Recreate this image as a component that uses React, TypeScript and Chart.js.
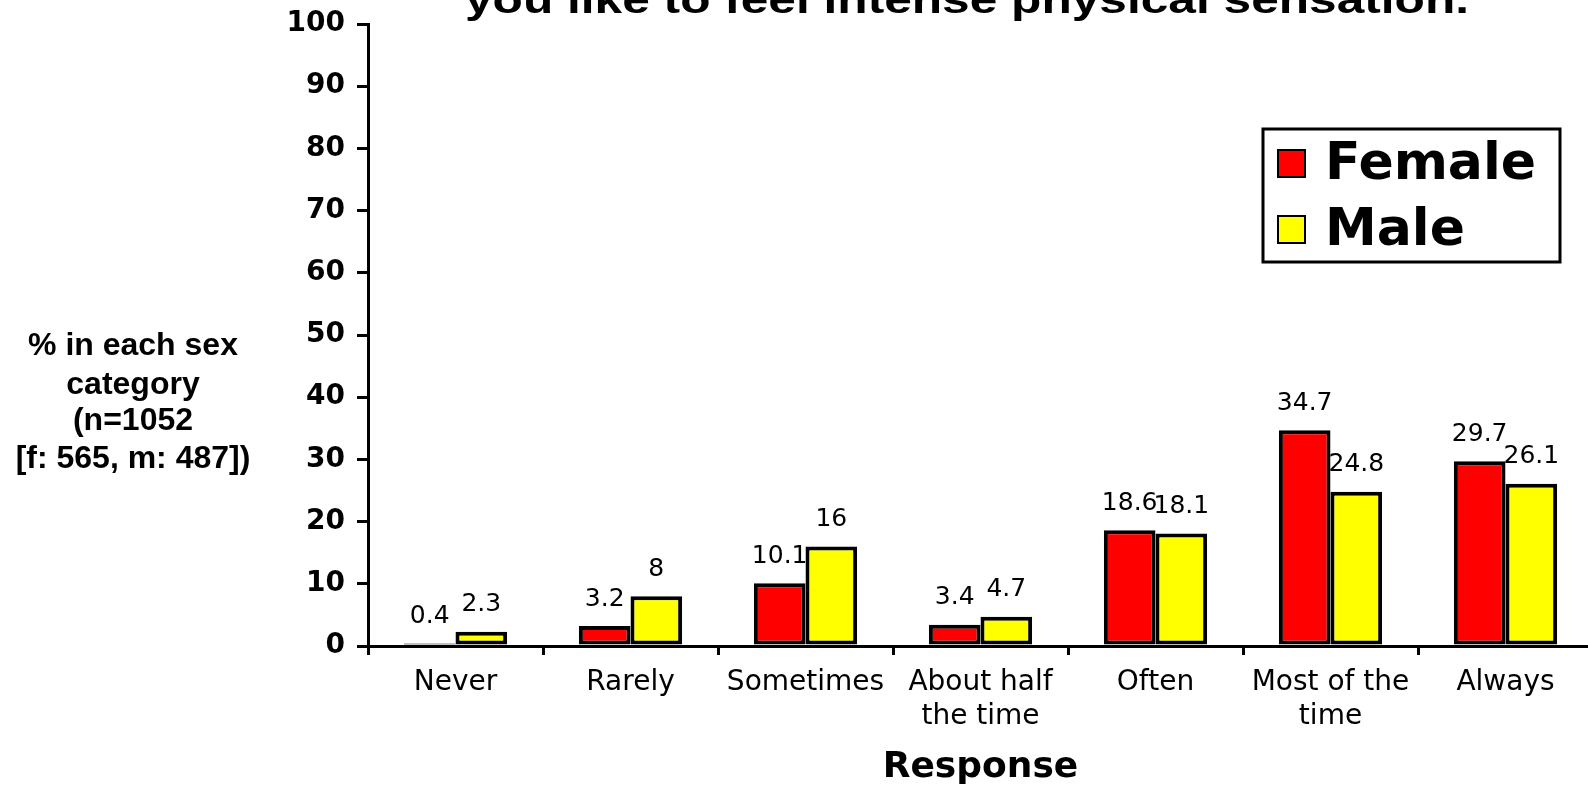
import React, { useEffect, useRef } from "react";
import { Chart, registerables } from "chart.js";

Chart.register(...registerables);

const categories: string[][] = [
  ["Never"],
  ["Rarely"],
  ["Sometimes"],
  ["About half", "the time"],
  ["Often"],
  ["Most of the", "time"],
  ["Always"],
];
const femaleValues = [0.4, 3.2, 10.1, 3.4, 18.6, 34.7, 29.7];
const maleValues = [2.3, 8, 16, 4.7, 18.1, 24.8, 26.1];
const seriesLabels = ["Female", "Male"];
const seriesColors = ["#FF0000", "#FFFF00"];
const titleText = "you like to feel intense physical sensation.";
const yTitleLines = ["% in each sex", "category", "(n=1052", "[f: 565, m: 487])"];
const xTitleText = "Response";
const yMin = 0;
const yMax = 100;
const yStep = 10;

const FONT = '"Liberation Sans", Arial, Helvetica, sans-serif';
const DFONT = '"DejaVu Sans", Verdana, sans-serif';

const decorPlugin = {
  id: "decor",
  beforeDatasetsDraw(chart: any) {
    const ctx = chart.ctx;
    ctx.save();
    ctx.font = `25px ${DFONT}`;
    ctx.fillStyle = "#000";
    ctx.textAlign = "center";
    ctx.textBaseline = "middle";
    chart.data.datasets.forEach((ds: any, i: number) => {
      const meta = chart.getDatasetMeta(i);
      meta.data.forEach((bar: any, j: number) => {
        ctx.fillText(String(ds.data[j]), bar.x, bar.y - 27);
      });
    });
    ctx.restore();
  },
  afterDraw(chart: any) {
    const ctx = chart.ctx;
    // Title (only last line visible, cut by the top edge)
    ctx.save();
    ctx.font = `bold 38px ${FONT}`;
    ctx.fillStyle = "#000";
    const tw = ctx.measureText(titleText).width;
    ctx.translate(465, 13);
    ctx.scale(1004 / tw, 1);
    ctx.textAlign = "left";
    ctx.textBaseline = "alphabetic";
    ctx.fillText(titleText, 0, 0);
    ctx.restore();

    // Y-axis title, horizontal, multi-line
    ctx.save();
    ctx.font = `bold 32px ${FONT}`;
    ctx.fillStyle = "#000";
    ctx.textAlign = "center";
    ctx.textBaseline = "alphabetic";
    const baselines = [355, 394, 430, 468];
    yTitleLines.forEach((line, i) => ctx.fillText(line, 133, baselines[i]));
    ctx.restore();

    // Legend
    ctx.save();
    const bx = 1263, by = 129, bw = 297, bh = 133;
    ctx.fillStyle = "#fff";
    ctx.fillRect(bx, by, bw, bh);
    ctx.lineWidth = 3;
    ctx.strokeStyle = "#000";
    ctx.strokeRect(bx, by, bw, bh);
    const rowBase = [179, 245];
    seriesLabels.forEach((lab, i) => {
      const b = rowBase[i];
      ctx.fillStyle = seriesColors[i];
      ctx.fillRect(1278, b - 29, 27, 27);
      ctx.lineWidth = 2;
      ctx.strokeStyle = "#000";
      ctx.strokeRect(1278, b - 29, 27, 27);
      ctx.font = `bold 52px ${DFONT}`;
      ctx.fillStyle = "#000";
      ctx.textAlign = "left";
      ctx.textBaseline = "alphabetic";
      ctx.fillText(lab, 1325, b);
    });
    ctx.restore();
  },
};

export default function App() {
  const ref = useRef<HTMLCanvasElement | null>(null);

  useEffect(() => {
    if (!ref.current) return;
    const chart = new Chart(ref.current, {
      type: "bar",
      data: {
        labels: categories,
        datasets: [
          {
            label: seriesLabels[0],
            data: femaleValues,
            backgroundColor: seriesColors[0],
            borderColor: "#000",
            borderWidth: 4,
            borderSkipped: false,
            categoryPercentage: 0.59,
            barPercentage: 1.0,
          },
          {
            label: seriesLabels[1],
            data: maleValues,
            backgroundColor: seriesColors[1],
            borderColor: "#000",
            borderWidth: 4,
            borderSkipped: false,
            categoryPercentage: 0.59,
            barPercentage: 1.0,
          },
        ],
      },
      options: {
        responsive: false,
        animation: false,
        devicePixelRatio: 1,
        layout: { padding: { left: 0, top: 24, right: 7, bottom: 0 } },
        plugins: {
          legend: { display: false },
          tooltip: { enabled: false },
          title: { display: false },
        },
        scales: {
          x: {
            type: "category",
            offset: true,
            grid: {
              display: true,
              drawOnChartArea: false,
              drawTicks: true,
              tickLength: 9,
              lineWidth: 3,
              color: "#000",
              offset: true,
            },
            border: { display: true, color: "#000", width: 3 },
            ticks: {
              color: "#000",
              font: { family: DFONT, size: 28, lineHeight: "34px" },
              padding: 11,
              maxRotation: 0,
              minRotation: 0,
              autoSkip: false,
            },
            title: {
              display: true,
              text: xTitleText,
              color: "#000",
              font: { family: DFONT, size: 36, weight: "bold", lineHeight: 0.85 },
              padding: { top: 0, bottom: 3 },
            },
            afterFit: (s: any) => {
              s.height = 140;
              s.paddingLeft = 0;
              s.paddingRight = 0;
            },
          },
          y: {
            min: yMin,
            max: yMax,
            ticks: {
              stepSize: yStep,
              color: "#000",
              font: { family: DFONT, size: 28, weight: "bold" },
              padding: 12,
            },
            grid: {
              display: true,
              drawOnChartArea: false,
              drawTicks: true,
              tickLength: 11,
              lineWidth: 3,
              color: "#000",
            },
            border: { display: true, color: "#000", width: 3 },
            afterFit: (s: any) => {
              s.width = 368;
              s.paddingTop = 0;
              s.paddingBottom = 0;
            },
          },
        },
      } as any,
      plugins: [decorPlugin],
    });
    return () => chart.destroy();
  }, []);

  return (
    <div
      style={{
        position: "fixed",
        left: 0,
        top: 0,
        width: 1588,
        height: 786,
        overflow: "hidden",
        background: "#fff",
      }}
    >
      <canvas ref={ref} width={1600} height={786} style={{ display: "block" }} />
    </div>
  );
}
